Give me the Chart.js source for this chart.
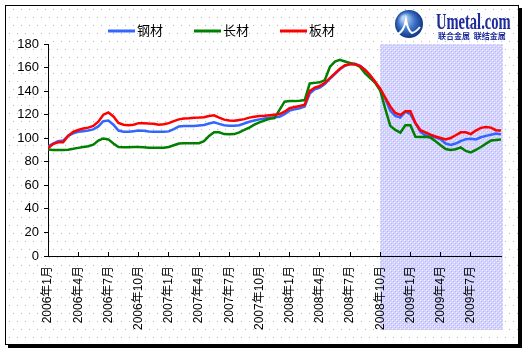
<!DOCTYPE html>
<html>
<head>
<meta charset="utf-8">
<script src="https://cdn.jsdelivr.net/npm/chart.js@4.4.1/dist/chart.umd.min.js"></script>
<style>
    html, body { margin: 0; padding: 0; background: #fff; }
    canvas { display: block; }
</style>
</head>
<body>
<canvas id="chart" width="529" height="352"></canvas>
<script>
// price indices, one value every half month from 2006-01 to 2009-10
const seriesNames = ['钢材', '长材', '板材'];
const tickLabels = ['2006年1月', '2006年4月', '2006年7月', '2006年10月', '2007年1月', '2007年4月', '2007年7月',
    '2007年10月', '2008年1月', '2008年4月', '2008年7月', '2008年10月', '2009年1月', '2009年4月', '2009年7月'];

const steelIndex = [93, 95.5, 97.5, 98, 102, 104.2, 105.5, 106, 106.5, 107.5,
    110, 114.5, 115, 111.5, 106.5, 105.5, 105.5, 106, 106.5, 106.3,
    105.8, 105.5, 105.5, 105.5, 105.8, 107.8, 110, 110.4, 110.4, 110.4,
    110.8, 111.2, 112.5, 113.5, 112.2, 111, 110.6, 110.5, 111, 112.5,
    114, 115, 116, 116.8, 117.3, 117.8, 118.3, 120.5, 123.4, 124.5,
    125.4, 127, 138, 141.5, 143, 146, 150.5, 154.5, 158.5, 161.5,
    163, 163.2, 161.5, 158, 153.5, 147.5, 141.5, 133.5, 123.5, 119,
    117.5, 122.5, 120.5, 112.5, 105.3, 102.5, 101.5, 100.7, 99, 95.5,
    94.2, 95.5, 97.5, 99.2, 99.5, 99, 100.8, 102, 103, 104,
    103.3];

const longIndex = [90.5, 90, 90, 90, 90.3, 91, 91.8, 92.5, 93.2, 94.5,
    98, 99.8, 99, 95.5, 92.5, 92.3, 92.3, 92.5, 92.5, 92.3,
    92, 92, 92, 92, 92.6, 94, 95.5, 95.7, 95.7, 95.7,
    95.8, 97.5, 102, 105, 105, 103.5, 103.3, 103.5, 105, 107,
    109, 111.5, 113.5, 115, 116.5, 117, 124, 131, 131.5, 131.5,
    131.9, 132.4, 146.5, 147, 147.5, 149.4, 160.5, 165, 166.5, 165.2,
    164, 162.8, 160.5, 155, 151, 147, 140.5, 125, 110.5, 107,
    104.8, 111, 111, 101.2, 101, 101.3, 100.5, 97.5, 94, 90.8,
    90, 90.6, 92.2, 89.2, 88, 90, 92.5, 95.3, 98, 98.5,
    99];

const plateIndex = [91.5, 95, 96.5, 96.5, 102, 105.5, 107, 108.3, 109, 110.5,
    114, 120, 121.8, 118.5, 113, 111.5, 111, 111.5, 112.8, 112.8,
    112.5, 112.3, 111.5, 111.8, 112.8, 114.5, 116, 116.8, 117, 117.3,
    117.5, 117.8, 118.8, 119.5, 117.5, 115.8, 115, 114.8, 115.5, 116.2,
    117.5, 118.3, 118.8, 119, 119.5, 120, 120.5, 122.5, 125.5, 126.5,
    127.4, 128.5, 140, 143, 144.3, 147, 151, 155, 159, 162,
    162.8, 162.8, 161.2, 158, 153.5, 148, 142, 134.5, 127, 121.5,
    119.8, 123, 123, 113, 106.8, 105, 103, 101.5, 100.2, 99,
    100.2, 102.5, 105, 105, 103.5, 106.5, 108.8, 109.5, 109, 106.8,
    106.5];

const shadeFromMonth = 33;   // 2008年10月
const halfMonths = steelIndex.map((_, i) => i / 2);
const colors = ['#3366ff', '#008000', '#ff0000'];
const FONT = '"Liberation Sans", "Noto Sans CJK SC", sans-serif';

function toPoints(values) {
    return values.map((v, i) => ({ x: halfMonths[i], y: v }));
}

function shadePattern(ctx) {
    const c = document.createElement('canvas');
    c.width = 4;
    c.height = 4;
    const p = c.getContext('2d');
    p.fillStyle = '#d2d2fc';
    p.fillRect(0, 0, 4, 4);
    p.fillStyle = '#bcbcf6';
    p.fillRect(1, 1, 1, 1);
    p.fillRect(3, 3, 1, 1);
    p.fillStyle = '#f4f4ff';
    p.fillRect(0, 0, 1, 1);
    p.fillRect(2, 2, 1, 1);
    return ctx.createPattern(c, 'repeat');
}

const backdrop = {
    id: 'backdrop',
    beforeDraw(chart) {
        const { ctx, width, height, chartArea, scales } = chart;
        ctx.save();
        ctx.fillStyle = '#fff';
        ctx.fillRect(0, 0, width, height);

        ctx.fillStyle = '#b8b8b8';
        for (let y = 9; y < 344; y += 8) {
            for (let x = (y % 16 === 1 ? 9 : 13); x < 518; x += 8) {
                ctx.fillRect(x, y, 1, 1);
            }
        }

        const x0 = Math.round(scales.x.getPixelForValue(shadeFromMonth));
        ctx.fillStyle = shadePattern(ctx);
        ctx.fillRect(x0, chartArea.top, chartArea.right + 2 - x0, 330 - chartArea.top);
        ctx.restore();
    },
    afterDraw(chart) {
        const { ctx } = chart;
        ctx.save();
        // frame with shadow
        ctx.strokeStyle = '#000';
        ctx.lineWidth = 1;
        ctx.strokeRect(5.5, 5.5, 513, 339);
        ctx.fillStyle = '#000';
        ctx.fillRect(519, 8, 3, 340);
        ctx.fillRect(8, 345, 514, 3);

        // legend
        ctx.font = '13px ' + FONT;
        ctx.textBaseline = 'middle';
        [108, 194, 280].forEach((x0, i) => {
            ctx.strokeStyle = colors[i];
            ctx.lineWidth = 3;
            ctx.beginPath();
            ctx.moveTo(x0, 31);
            ctx.lineTo(x0 + 27, 31);
            ctx.stroke();
            ctx.fillStyle = '#000';
            ctx.fillText(seriesNames[i], x0 + 29, 31);
        });

        // logo
        const g = ctx.createRadialGradient(404, 18, 2, 409, 24, 15);
        g.addColorStop(0, '#b8d4f4');
        g.addColorStop(0.5, '#3a72c8');
        g.addColorStop(1, '#0c2f7a');
        ctx.fillStyle = g;
        ctx.beginPath();
        ctx.arc(409, 24, 14, 0, Math.PI * 2);
        ctx.fill();
        ctx.strokeStyle = '#fff';
        ctx.lineWidth = 2;
        ctx.beginPath();
        ctx.moveTo(398, 34);
        ctx.quadraticCurveTo(404, 31, 406, 20);
        ctx.quadraticCurveTo(408, 31, 412, 33);
        ctx.quadraticCurveTo(416, 32, 420, 27);
        ctx.stroke();

        ctx.fillStyle = '#1c2a9c';
        ctx.textBaseline = 'alphabetic';
        ctx.save();
        ctx.translate(436, 29);
        ctx.scale(0.66, 1.05);
        ctx.font = 'bold 22px "Liberation Serif", serif';
        ctx.fillText('Umetal.com', 0, 0);
        ctx.restore();
        ctx.font = 'bold 8px "Noto Sans CJK SC", sans-serif';
        ctx.fillText('联合金属  联结金属', 438, 39);
        ctx.restore();
    }
};

new Chart(document.getElementById('chart'), {
    type: 'line',
    data: {
        datasets: [
            { label: seriesNames[0], data: toPoints(steelIndex), borderColor: colors[0], order: 2 },
            { label: seriesNames[1], data: toPoints(longIndex), borderColor: colors[1], order: 1 },
            { label: seriesNames[2], data: toPoints(plateIndex), borderColor: colors[2], order: 0 }
        ]
    },
    options: {
        responsive: false,
        animation: false,
        devicePixelRatio: 1,
        layout: { padding: { top: 44, right: 28, bottom: 0, left: 0 } },
        elements: {
            line: { borderWidth: 2.5, tension: 0, fill: false },
            point: { radius: 0 }
        },
        plugins: {
            legend: { display: false },
            tooltip: { enabled: false }
        },
        scales: {
            x: {
                type: 'linear',
                min: 0,
                max: 45,
                afterFit(scale) {
                    scale.height = 96;
                    scale.paddingLeft = 0;
                    scale.paddingRight = 0;
                },
                ticks: {
                    stepSize: 3,
                    autoSkip: false,
                    minRotation: 90,
                    maxRotation: 90,
                    padding: 14,
                    color: '#000',
                    font: { family: FONT, size: 12 },
                    callback: (value) => tickLabels[value / 3] ?? ''
                },
                grid: {
                    drawOnChartArea: false,
                    drawTicks: true,
                    tickLength: -4,
                    color: (c) => (c.tick && c.tick.value === 45 ? 'rgba(0,0,0,0)' : '#000')
                },
                border: { display: true, color: '#000', width: 1 }
            },
            y: {
                min: 0,
                max: 180,
                afterFit(scale) {
                    scale.width = 48;
                    scale.paddingTop = 0;
                    scale.paddingBottom = 0;
                },
                ticks: {
                    stepSize: 20,
                    padding: 5,
                    color: '#000',
                    font: { family: FONT, size: 13 }
                },
                grid: {
                    drawOnChartArea: false,
                    drawTicks: true,
                    tickLength: 4,
                    color: '#000'
                },
                border: { display: true, color: '#000', width: 1 }
            }
        }
    },
    plugins: [backdrop]
});
</script>
</body>
</html>
